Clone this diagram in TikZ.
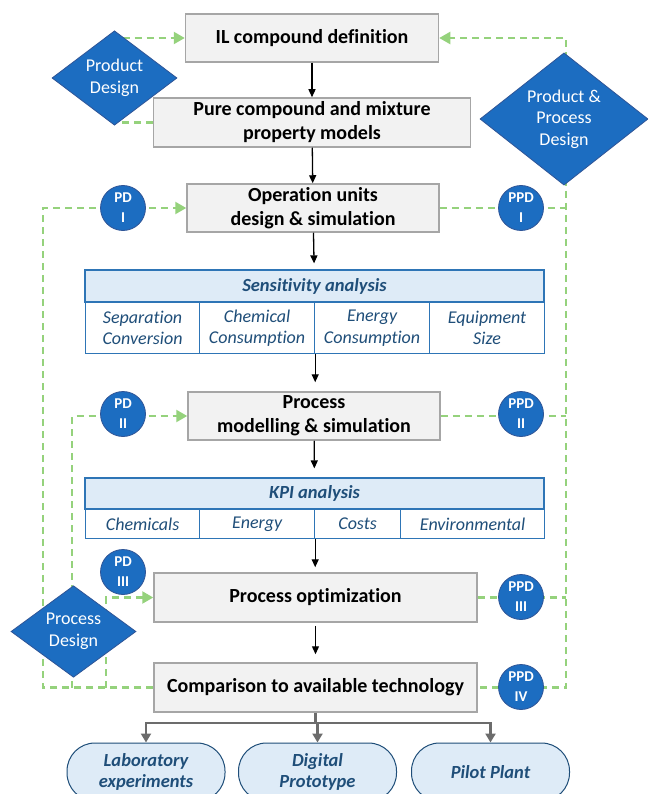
\documentclass[tikz,border=0pt]{standalone}
\usepackage{fontspec}
\setmainfont{Carlito}[Ligatures=NoCommon]
\usetikzlibrary{positioning,calc,arrows.meta,shapes.geometric}

\definecolor{boxfill}{HTML}{F2F2F2}
\definecolor{boxline}{HTML}{A6A6A6}
\definecolor{tabline}{HTML}{2E75B6}
\definecolor{tabfill}{HTML}{DEEBF7}
\definecolor{navy}{HTML}{1F4E79}
\definecolor{dblue}{HTML}{1C6DC1}
\definecolor{dline}{HTML}{2F5597}
\definecolor{fgreen}{HTML}{95D27C}

\tikzset{
  stage/.style={draw=boxline,line width=1.5pt,fill=boxfill,align=center,
    minimum height=48pt,inner sep=0pt,font=\fontsize{20}{24}\selectfont\bfseries},
  tabhead/.style={draw=tabline,line width=1.2pt,fill=tabfill,text=navy,
    minimum width=459pt,inner sep=0pt,font=\fontsize{18.5}{22}\selectfont\bfseries\itshape},
  tabcell/.style={draw=tabline,line width=1.2pt,fill=white,text=navy,align=center,
    inner sep=0pt,font=\fontsize{18}{21.5}\selectfont\itshape},
  decision/.style={diamond,draw=dline,line width=0.8pt,fill=dblue,text=white,align=center,
    inner sep=0pt,font=\fontsize{18}{21.5}\selectfont},
  tag/.style={circle,draw=dline,line width=0.8pt,fill=dblue,text=white,align=center,
    minimum size=45pt,inner sep=0pt,font=\fontsize{15}{20}\selectfont\bfseries},
  outcome/.style={draw=navy,line width=1pt,fill=tabfill,text=navy,align=center,
    rounded corners=28pt,minimum width=158pt,minimum height=58pt,inner sep=0pt,
    font=\fontsize{18.5}{21.5}\selectfont\bfseries\itshape},
  flow/.style={-{Triangle[length=8pt,width=7pt]},line width=1.3pt,black},
  loop/.style={fgreen,line width=2.2pt,dash pattern=on 7pt off 5pt},
  loopto/.style={loop,-{Triangle[length=11pt,width=12pt]}},
  split/.style={draw=gray!85!black,line width=2.4pt},
  splitto/.style={split,-{Triangle[length=9pt,width=10pt]}}
}

\begin{document}
\begin{tikzpicture}[x=1pt,y=-1pt]
  \fill[white] (0,0) rectangle (648,794);
  \useasboundingbox (0,0) rectangle (648,794);
  \clip (0,0) rectangle (648,794);

  % main chain
  \node[stage,minimum width=253pt] (ilc)  at (312,38) {IL compound definition};
  \node[stage,minimum width=317pt,minimum height=49pt] (prop) at (312,122.5) {Pure compound and mixture\\property models};
  \node[stage,minimum width=252pt] (oper) at (313,208) {Operation units\\design \& simulation};
  \node[stage,minimum width=252pt] (proc) at (314,416) {Process\\modelling \& simulation};
  \node[stage,minimum width=323pt,minimum height=49pt] (opt)  at (315.5,597.5) {Process optimization};
  \node[stage,minimum width=323pt,minimum height=49pt] (comp) at (315.5,687.5) {Comparison to available technology};

  % sensitivity table
  \node[tabhead,minimum height=32pt] (sens) at (314.5,286) {Sensitivity analysis};
  \node[tabcell,minimum width=114pt,minimum height=51pt,anchor=north west] (sens1) at (85,302) {Separation\\Conversion};
  \node[tabcell,minimum width=115pt,minimum height=51pt,anchor=north west] (sens2) at (199,302) {Chemical\\Consumption};
  \node[tabcell,minimum width=115pt,minimum height=51pt,anchor=north west] (sens3) at (314,302) {Energy\\Consumption};
  \node[tabcell,minimum width=115pt,minimum height=51pt,anchor=north west] (sens4) at (429,302) {Equipment\\Size};

  % KPI table
  \node[tabhead,minimum height=31pt] (kpi) at (314.5,493.5) {KPI analysis};
  \node[tabcell,minimum width=114pt,minimum height=29pt,anchor=north west] (kpi1) at (85,509) {Chemicals};
  \node[tabcell,minimum width=115pt,minimum height=29pt,anchor=north west] (kpi2) at (199,509) {Energy};
  \node[tabcell,minimum width=86pt,minimum height=29pt,anchor=north west] (kpi3) at (314,509) {Costs};
  \node[tabcell,minimum width=144pt,minimum height=29pt,anchor=north west] (kpi4) at (400,509) {Environmental};

  % outcomes
  \node[outcome] (lab) at (146,772) {Laboratory\\experiments};
  \node[outcome] (dig) at (317.5,772) {Digital\\Prototype};
  \node[outcome] (pil) at (490.5,772) {Pilot Plant};

  \draw[flow] (ilc) -- (prop);
  \draw[flow] (prop) -- (oper);
  \draw[flow,shorten >=6pt] (oper) -- (sens);
  \draw[flow,shorten >=9pt] (sens2.south east) -- (proc.north -| sens2.south east);
  \draw[flow,shorten >=9pt] (proc) -- (kpi);
  \draw[flow,shorten >=5pt] (kpi2.south east) -- (opt.north -| kpi2.south east);
  \draw[flow,shorten <=3pt,shorten >=8pt] (opt) -- (comp);

  \coordinate (fork) at ($(comp.south)+(0,10)$);
  \draw[split] (comp.south) -- (fork);
  \draw[splitto] (fork) -| (lab.north);
  \draw[splitto] (fork) -- (dig.north |- fork) -- (dig.north);
  \draw[splitto] (fork) -| (pil.north);

  % design loops
  \coordinate (ppdline) at (566,687.5);
  \draw[loop] (prop.west) -| (114.5,78);
  \draw[loopto] (114.5,78) |- (ilc.west);
  \draw[loopto] (566,119) |- (ilc.east);
  \draw[loop] (566,119) -- (ppdline) -- (comp.east);
  \draw[loop] (oper.east) -- (566,208);
  \draw[loop] (proc.east) -- (566,416);
  \draw[loop] (opt.east) -- (566,597.5);

  \draw[loopto] (comp.west) -| (43,208) -- (oper.west);
  \draw[loopto] (72,687.5) |- (proc.west);
  \draw[loopto] (106,687.5) |- (opt.west);

  % decision diamonds
  \node[decision,minimum width=125pt,minimum height=70pt] (pdes) at (114.5,78) {Product\\Design};
  \node[decision,minimum width=168pt,minimum height=112pt] (ppdes) at (564,119) {Product \&\\Process\\Design};
  \node[decision,minimum width=125pt,minimum height=71pt] (prdes) at (73.5,631.5) {Process\\Design};

  % stage tags
  \node[tag] (pd1)  at (123,208) {PD\\I};
  \node[tag] (pd2)  at (123,414) {PD\\II};
  \node[tag] (pd3)  at (123,572) {PD\\III};
  \node[tag] (ppd1) at (521,208) {PPD\\I};
  \node[tag] (ppd2) at (521,414) {PPD\\II};
  \node[tag] (ppd3) at (521,597) {PPD\\III};
  \node[tag] (ppd4) at (521,687) {PPD\\IV};
\end{tikzpicture}
\end{document}
